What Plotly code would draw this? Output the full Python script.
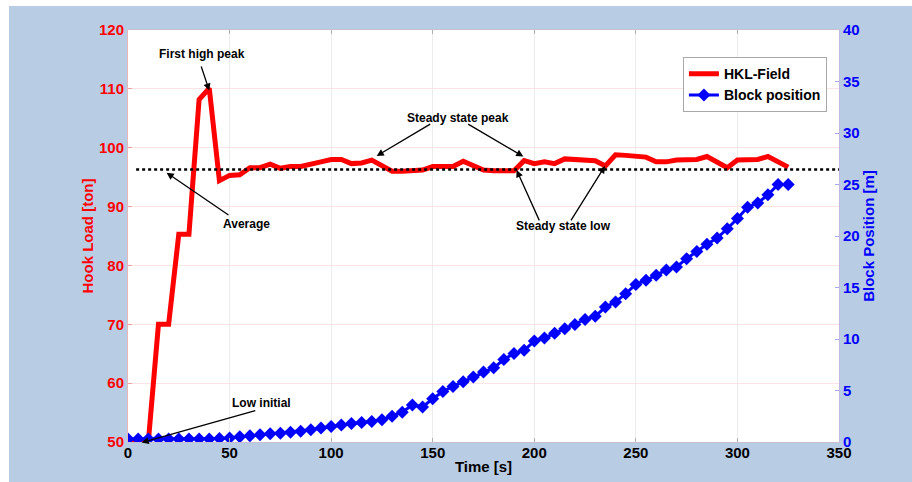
import plotly.graph_objects as go

# ---- data -------------------------------------------------------------
time_s = list(range(0, 330, 5))  # 0 ... 325 s

hook_load_ton = [
    50, 50, 50, 70, 70, 85.3, 85.3, 108.2, 110.1, 94.4,
    95.3, 95.4, 96.6, 96.6, 97.2, 96.5, 96.8, 96.8, 97.1, 97.6,
    98.0, 98.0, 97.3, 97.4, 97.9, 97.0, 96.0, 96.0, 96.1, 96.2,
    96.8, 96.9, 96.8, 97.7, 96.9, 96.2, 96.1, 96.1, 96.1, 97.8,
    97.3, 97.6, 97.3, 98.1, 98.0, 97.9, 97.8, 96.9, 98.8, 98.7,
    98.6, 98.4, 97.6, 97.6, 97.9, 98.0, 98.0, 98.5, 97.6, 96.6,
    97.9, 97.9, 98.0, 98.5, 97.6, 96.7,
]

block_position_m = [
    0.3, 0.3, 0.3, 0.3, 0.3, 0.3, 0.3, 0.3, 0.3,
    0.35, 0.4, 0.5, 0.6, 0.7, 0.8, 0.85, 0.95, 1.05, 1.2, 1.35,
    1.5, 1.65, 1.8, 1.9, 2.0, 2.15, 2.5, 2.9, 3.6, 3.4,
    4.2, 4.9, 5.4, 5.85, 6.3, 6.8, 7.2, 8.0, 8.6, 8.9,
    9.8, 10.1, 10.55, 11.0, 11.4, 11.9, 12.2, 13.1, 13.6, 14.4,
    15.3, 15.7, 16.2, 16.7, 17.0, 17.8, 18.5, 19.2, 19.8, 20.7,
    21.7, 22.8, 23.2, 24.0, 25.0, 25.0,
]

average_span_s = [4, 350]
average_load_ton = 96.3

x_ticks = [0, 50, 100, 150, 200, 250, 300, 350]
load_ticks = [50, 60, 70, 80, 90, 100, 110, 120]
position_ticks = [0, 5, 10, 15, 20, 25, 30, 35, 40]

# annotation texts: (label, x, y)
labels = [
    ("First high peak", 36.4, 115.9),
    ("Steady state peak", 162.4, 105.05),
    ("Steady state low", 214.6, 86.7),
    ("Average", 58.1, 87.0),
    ("Low initial", 65.5, 56.6),
]
# arrows: (tip x, tip y, tail x, tail y)
arrows = [
    (40.0, 109.7, 35.8, 114.05),
    (122.4, 98.6, 149.5, 104.15),
    (194.6, 98.5, 166.7, 104.15),
    (191.3, 96.2, 202.8, 87.4),
    (234.8, 96.9, 217.6, 87.4),
    (19.0, 95.75, 50.2, 88.4),
    (6.7, 49.9, 63.4, 55.4),
]

FONT = "Liberation Sans, Arial, Helvetica, sans-serif"
RED = "#ff0000"
BLUE = "#0000ff"
BG = "#b8cce4"

fig = go.Figure()

fig.add_trace(go.Scatter(
    x=time_s, y=hook_load_ton, name="HKL-Field", mode="lines",
    line=dict(color=RED, width=5), yaxis="y",
))
fig.add_trace(go.Scatter(
    x=average_span_s, y=[average_load_ton] * len(average_span_s),
    mode="lines", line=dict(color="black", width=2.5, dash="dot"),
    showlegend=False, yaxis="y",
))
fig.add_trace(go.Scatter(
    x=time_s, y=block_position_m, name="Block position", mode="lines+markers",
    line=dict(color=BLUE, width=3),
    marker=dict(symbol="diamond", size=10, color=BLUE),
    yaxis="y2",
))

annotations = []
for text, x, y in labels:
    annotations.append(dict(
        x=x, y=y, xref="x", yref="y", text=text, showarrow=False,
        font=dict(family=FONT, size=12, color="black", weight="bold"),
    ))
for tx, ty, sx, sy in arrows:
    annotations.append(dict(
        x=tx, y=ty, xref="x", yref="y", ax=sx, ay=sy, axref="x", ayref="y",
        text="", showarrow=True, arrowhead=2, arrowsize=1.1,
        arrowwidth=1.3, arrowcolor="black",
    ))

# white frame strips at the top and left of the page
shapes = [
    dict(type="rect", xref="paper", yref="paper", x0=-0.2, x1=1.2,
         y0=1.0583, y1=1.1, fillcolor="white", line=dict(width=0), layer="below"),
    dict(type="rect", xref="paper", yref="paper", x0=-0.2, x1=-0.1674,
         y0=-0.2, y1=1.1, fillcolor="white", line=dict(width=0), layer="below"),
]

tick_font = dict(family=FONT, size=15, weight="bold")

fig.update_layout(
    width=912, height=482, autosize=False,
    margin=dict(l=128, r=73, t=30, b=40, autoexpand=False),
    paper_bgcolor=BG, plot_bgcolor="white",
    font=dict(family=FONT),
    xaxis=dict(
        range=[0, 350], tickvals=x_ticks, ticks="inside", ticklen=4,
        tickcolor="#b0b0b0", showline=True, linecolor="#c8c0d0", linewidth=1,
        mirror="ticks", showgrid=True, gridcolor="#ececec", zeroline=False,
        automargin=False, ticklabelstandoff=-3,
        tickfont=dict(color="black", **tick_font),
        title=dict(text="Time [s]", font=dict(color="black", size=15, weight="bold"),
                   standoff=1),
    ),
    yaxis=dict(
        range=[50, 120], tickvals=load_ticks, ticks="inside", ticklen=4,
        tickcolor="#f0a0a0", showline=True, linecolor="#e8b8b8", linewidth=1,
        showgrid=True, gridcolor="#fbe4e4", zeroline=False, automargin=False,
        tickfont=dict(color=RED, **tick_font),
        title=dict(text="Hook Load [ton]", font=dict(color=RED, size=15, weight="bold"),
                   standoff=1),
    ),
    yaxis2=dict(
        range=[0, 40], tickvals=position_ticks, ticks="inside", ticklen=4,
        tickcolor="#a8a8f0", overlaying="y", side="right",
        showline=True, linecolor="#c0b8e0", linewidth=1,
        showgrid=False, zeroline=False, automargin=False,
        tickfont=dict(color=BLUE, **tick_font),
        title=dict(text="Block Position [m]", font=dict(color=BLUE, size=15, weight="bold"),
                   standoff=0),
    ),
    legend=dict(
        x=0.983, y=0.934, xanchor="right", yanchor="top",
        bgcolor="white", bordercolor="#a8a8a8", borderwidth=1,
        font=dict(family=FONT, size=14, color="black", weight="bold"),
        itemwidth=30, tracegroupgap=0,
    ),
    annotations=annotations,
    shapes=shapes,
    showlegend=True,
)

fig.write_html("out.html")
